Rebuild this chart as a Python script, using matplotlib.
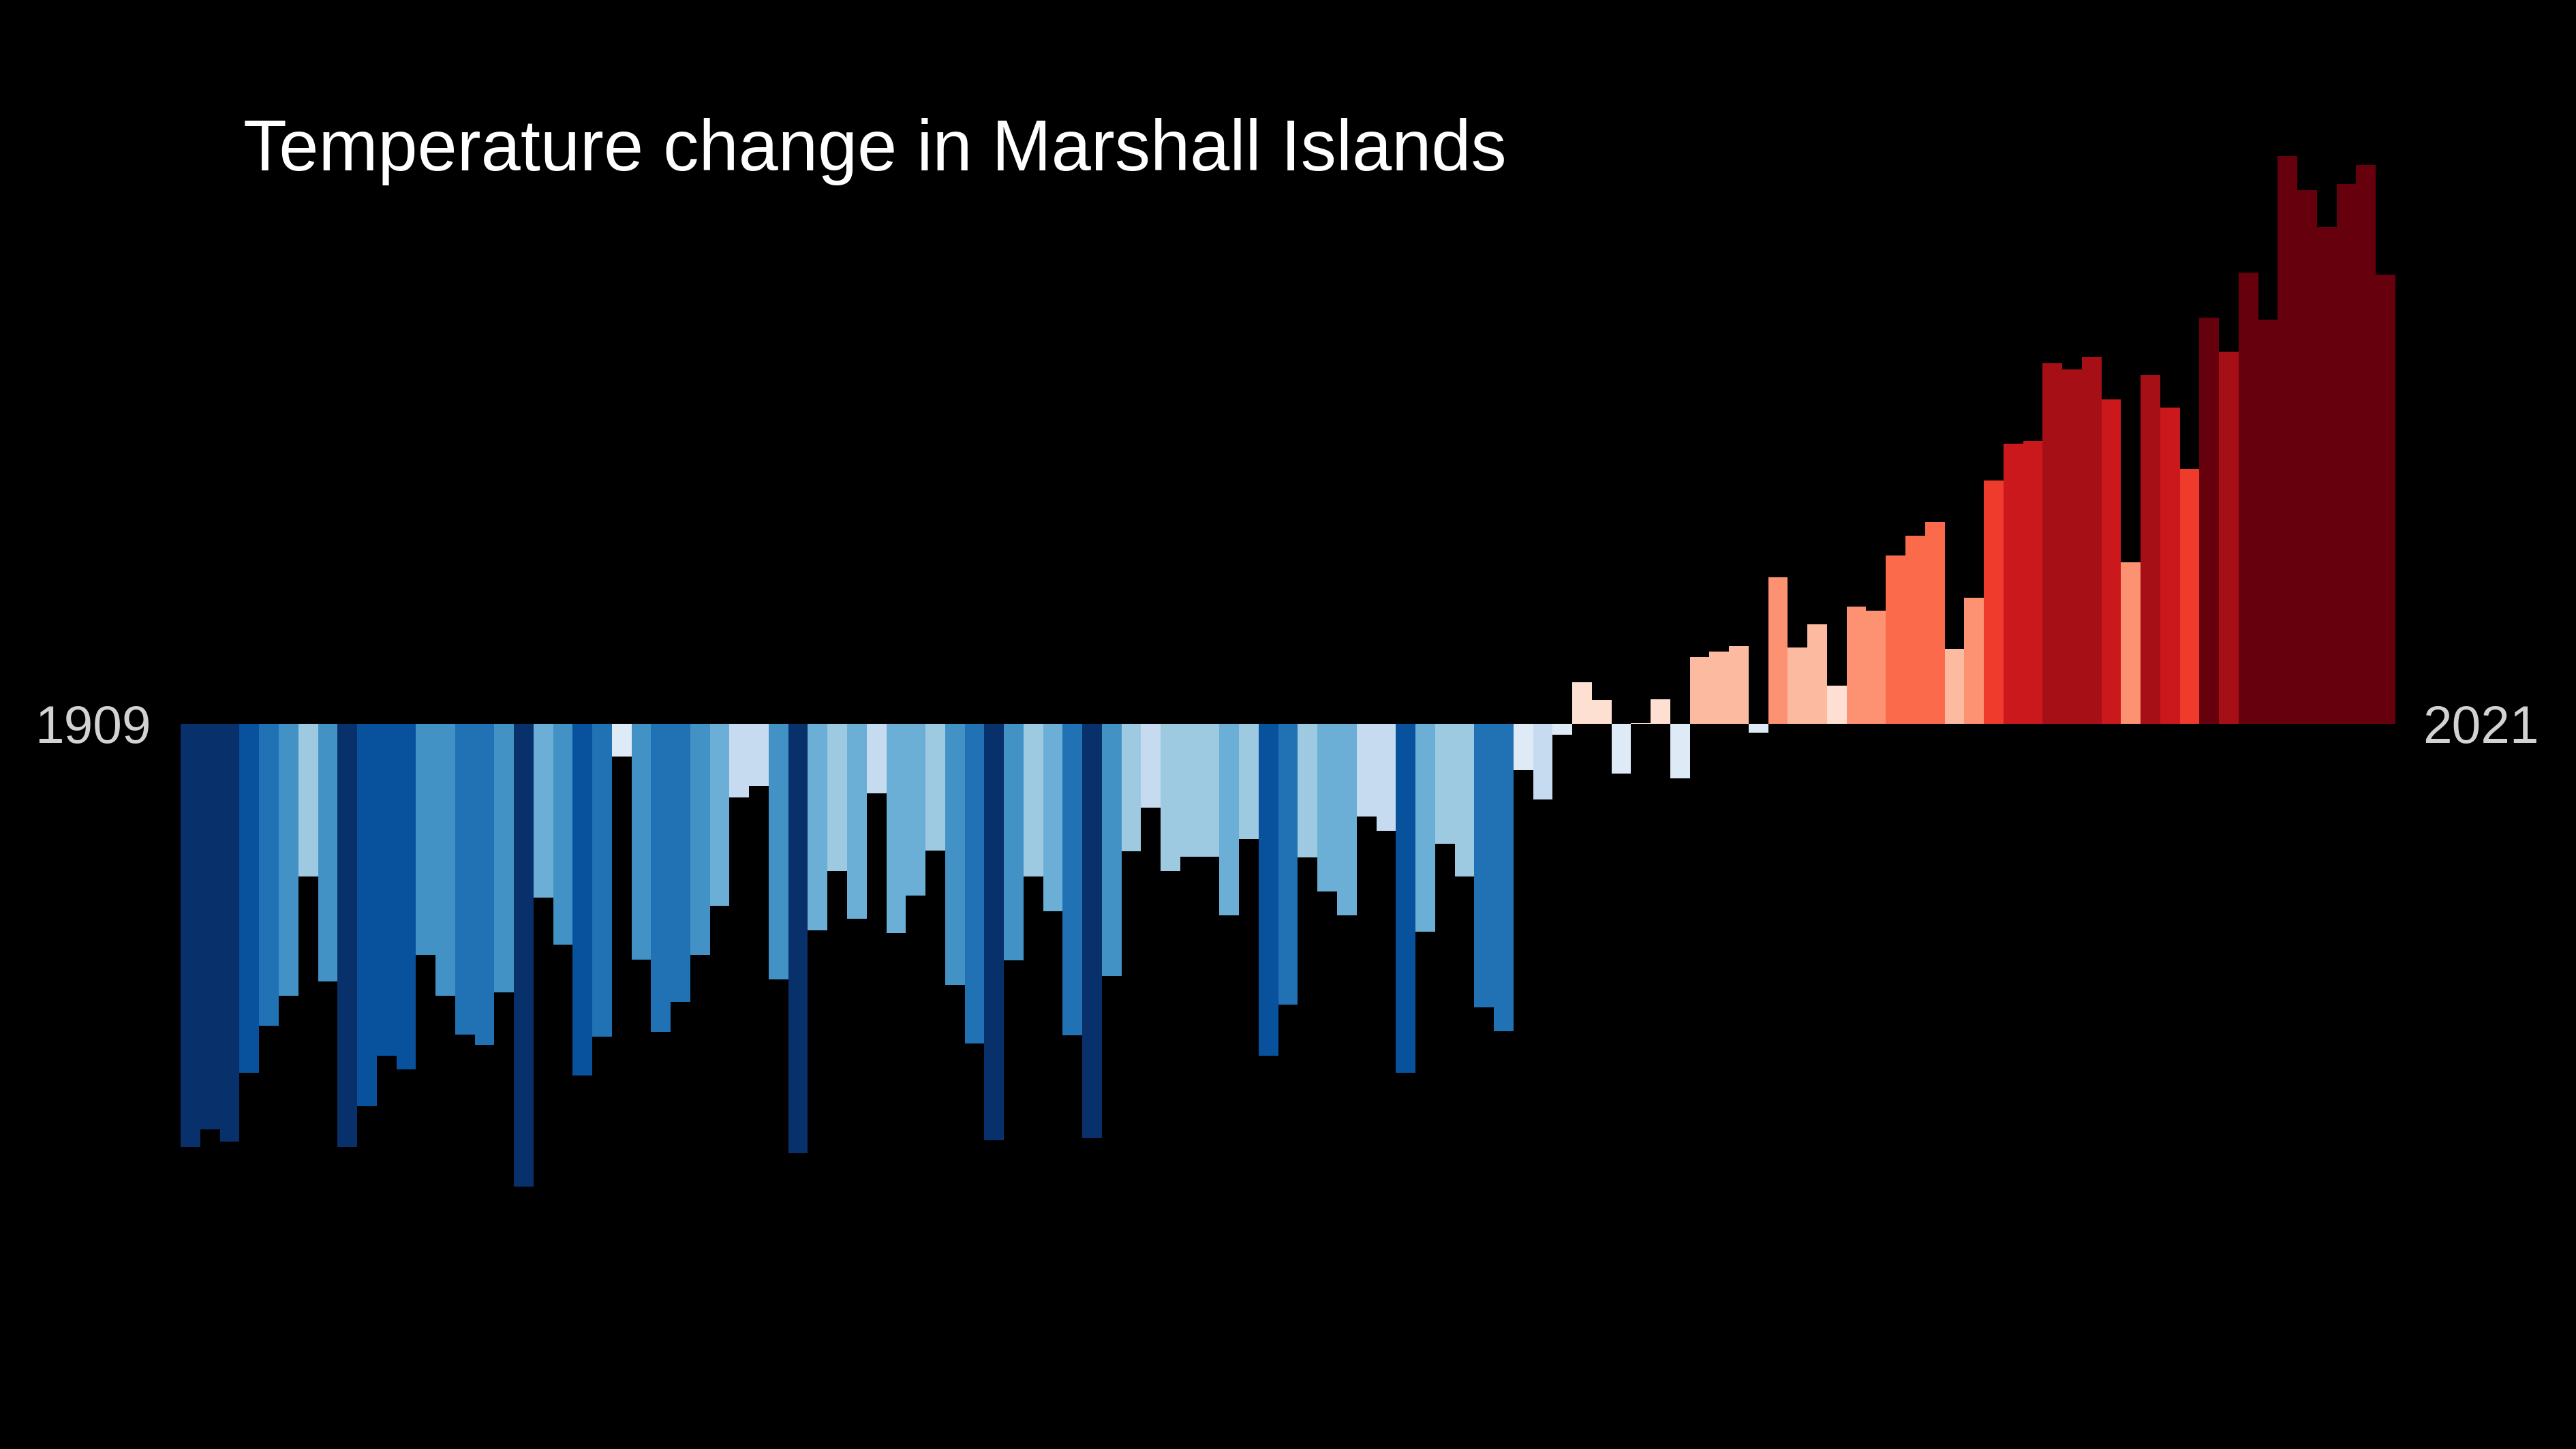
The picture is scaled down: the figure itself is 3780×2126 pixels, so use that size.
import numpy as np
import matplotlib
matplotlib.use("Agg")
import matplotlib.pyplot as plt
from matplotlib.colors import ListedColormap, BoundaryNorm

plt.rcParams['font.family'] = ['Liberation Sans', 'DejaVu Sans']

# ---------------- data ----------------
title = "Temperature change in Marshall Islands"
first_year = 1909
last_year = 2021
years = np.arange(first_year, last_year + 1)

# temperature anomaly (deg C)
anomaly = [
    -0.770, -0.737, -0.760, -0.634, -0.549, -0.495, -0.278, -0.469, -0.769, -0.695,
    -0.604, -0.628, -0.420, -0.495, -0.565, -0.584, -0.488, -0.841, -0.316, -0.401,
    -0.639, -0.569, -0.059, -0.429, -0.560, -0.505, -0.420, -0.331, -0.134, -0.113,
    -0.465, -0.781, -0.375, -0.268, -0.354, -0.126, -0.381, -0.312, -0.230, -0.475,
    -0.581, -0.757, -0.430, -0.278, -0.341, -0.566, -0.753, -0.459, -0.232, -0.152,
    -0.268, -0.242, -0.242, -0.348, -0.210, -0.603, -0.511, -0.243, -0.305, -0.348,
    -0.168, -0.195, -0.634, -0.378, -0.218, -0.278, -0.515, -0.559, -0.084, -0.137,
    -0.020, 0.076, 0.043, -0.090, 0.001, 0.044, -0.099, 0.122, 0.131, 0.141,
    -0.016, 0.267, 0.139, 0.181, 0.070, 0.213, 0.206, 0.306, 0.342, 0.367,
    0.136, 0.229, 0.442, 0.509, 0.514, 0.656, 0.644, 0.667, 0.590, 0.294,
    0.635, 0.575, 0.464, 0.739, 0.676, 0.820, 0.735, 1.032, 0.970, 0.903,
    0.982, 1.016, 0.816,
]

stripe_colors = [
    '#08306b', '#08519c', '#2171b5', '#4292c6', '#6baed6', '#9ecae1', '#c6dbef', '#deebf7',
    '#fee0d2', '#fcbba1', '#fc9272', '#fb6a4a', '#ef3b2c', '#cb181d', '#a50f15', '#67000d',
]
color_bounds = np.round(np.arange(-0.8, 0.81, 0.1), 2)

# ---------------- figure ----------------
W, H, DPI = 3780, 2126, 300
fig = plt.figure(figsize=(W / DPI, H / DPI), dpi=DPI, facecolor='black')

bar_left_px, bar_right_px = 265.2, 3515.0
base_px = 1062.0
px_per_deg = 807.0

ax = fig.add_axes([bar_left_px / W, 0, (bar_right_px - bar_left_px) / W, 1])
ax.set_facecolor('black')

cmap = ListedColormap(stripe_colors)
norm = BoundaryNorm(color_bounds, ncolors=cmap.N, clip=True)
vals = np.array(anomaly)
ax.bar(years, vals, width=1.0, color=cmap(norm(vals)), linewidth=0)

ax.set_xlim(first_year - 0.5, last_year + 0.5)
ax.set_ylim(-(H - base_px) / px_per_deg, base_px / px_per_deg)
ax.axis('off')

label_base_y = 1 - 1090 / H
fig.text(222 / W, label_base_y, str(first_year), color='#d2d2d2', fontsize=18.4,
         ha='right', va='baseline')
fig.text(3555 / W, label_base_y, str(last_year), color='#d2d2d2', fontsize=18.4,
         ha='left', va='baseline')
fig.text(357 / W, 1 - 250 / H, title, color='white', fontsize=25.1,
         ha='left', va='baseline')

fig.savefig('out.png', dpi=DPI, facecolor='black')
